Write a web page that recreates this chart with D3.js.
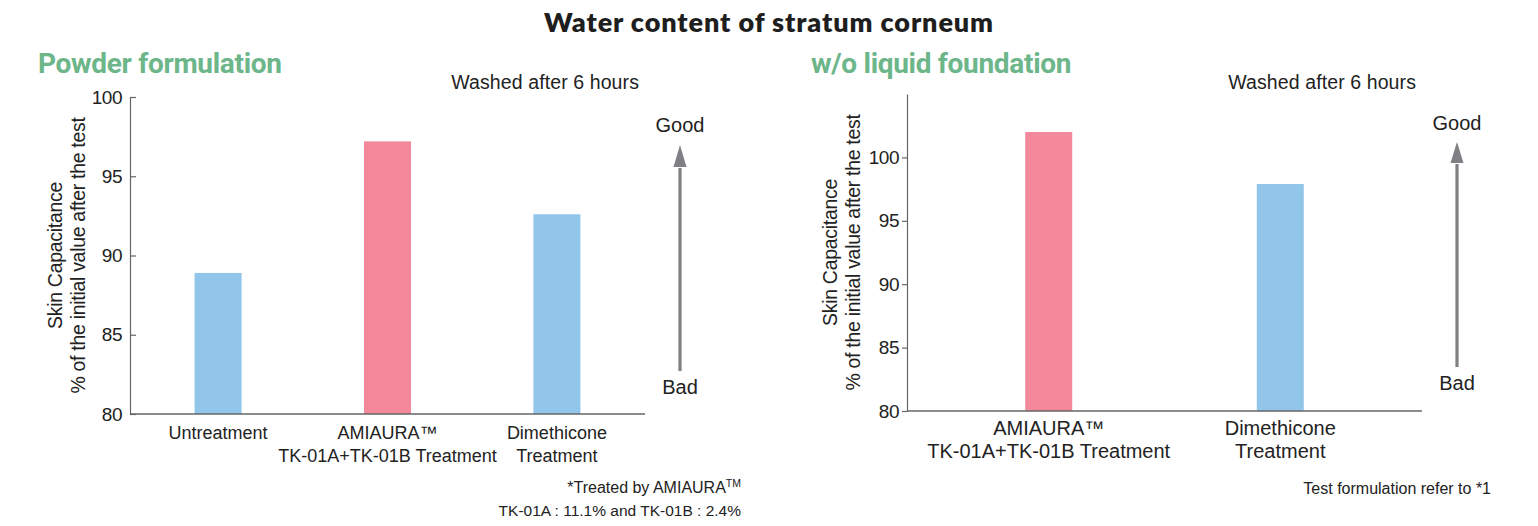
<!DOCTYPE html>
<html>
<head>
<meta charset="utf-8">
<script src="https://cdn.jsdelivr.net/npm/d3@7"></script>
<style>
  html, body { margin: 0; padding: 0; background: #fff; }
  svg { display: block; }
  text { font-family: 'Liberation Sans', Arial, sans-serif; fill: #222; }
</style>
</head>
<body>
<svg id="chart" width="1538" height="526"></svg>
<script>
// ---- data ----
const leftCategories = [["Untreatment"], ["AMIAURA\u2122", "TK-01A+TK-01B Treatment"], ["Dimethicone", "Treatment"]];
const leftValues = [88.9, 97.2, 92.6];
const leftColors = ["#92c5ea", "#f3889b", "#92c5ea"];
const leftTicks = [80, 85, 90, 95, 100];

const rightCategories = [["AMIAURA\u2122", "TK-01A+TK-01B Treatment"], ["Dimethicone", "Treatment"]];
const rightValues = [102.0, 97.9];
const rightColors = ["#f3889b", "#92c5ea"];
const rightTicks = [80, 85, 90, 95, 100];

const titleText = "Water content of stratum corneum";
const subtitles = ["Powder formulation", "w/o liquid foundation"];
const noteText = "Washed after 6 hours";
const yLabelLines = ["Skin Capacitance", "% of the initial value after the test"];

const svg = d3.select("#chart");
const green = "#6cb68a";
const axisColor = "#666";
const arrowColor = "#7f7f84";

// title
svg.append("text").attr("x", 769).attr("y", 32).attr("text-anchor", "middle")
  .style("font-family", "Lato, 'DejaVu Sans', sans-serif").style("font-weight", 800)
  .style("font-size", "27px").style("letter-spacing", "0.9px").style("fill", "#1e1e1e").text(titleText);

function panel(cfg) {
  const g = svg.append("g");
  const y = d3.scaleLinear().domain(cfg.domain).range([cfg.y0, cfg.y1]);
  const x = d3.scalePoint().domain(cfg.cats.map((d, i) => i)).range([cfg.x0, cfg.x1]).padding(cfg.pad);

  // subtitle
  g.append("text").attr("x", cfg.subX).attr("y", 73)
    .style("font-family", "Roboto, 'Liberation Sans', sans-serif").style("font-weight", 700)
    .style("font-size", "28px").style("letter-spacing", "-0.3px").style("fill", green)
    .text(cfg.subtitle);

  // note
  g.append("text").attr("x", cfg.noteX).attr("y", 89).attr("text-anchor", "end")
    .style("font-size", "19.5px").style("letter-spacing", "0.1px").text(noteText);

  // bars
  const bw = 47;
  g.selectAll("rect.bar").data(cfg.values).join("rect")
    .attr("class", "bar")
    .attr("x", (d, i) => x(i) - bw / 2)
    .attr("width", bw)
    .attr("y", d => y(d))
    .attr("height", d => y(cfg.domain[0]) - y(d))
    .attr("fill", (d, i) => cfg.colors[i]);

  // y axis
  const ax = g.append("g").attr("transform", `translate(${cfg.x0},0)`)
    .call(d3.axisLeft(y).tickValues(cfg.ticks).tickSize(cfg.tickSize).tickSizeOuter(0).tickPadding(cfg.tickPad));
  ax.select(".domain").attr("stroke", axisColor).attr("stroke-width", 1.2);
  ax.selectAll(".tick line").attr("stroke", axisColor).attr("stroke-width", 1.2);
  ax.selectAll(".tick text").style("font-family", "'Liberation Sans', Arial, sans-serif")
    .style("font-size", "19px").style("letter-spacing", "-0.5px").attr("fill", "#222");

  // x axis baseline
  g.append("line").attr("x1", cfg.x0).attr("x2", cfg.x1)
    .attr("y1", y(cfg.domain[0])).attr("y2", y(cfg.domain[0]))
    .attr("stroke", axisColor).attr("stroke-width", 1.4);

  // category labels
  cfg.cats.forEach((lines, i) => {
    lines.forEach((ln, j) => {
      g.append("text").attr("x", x(i)).attr("y", cfg.catY + j * cfg.catLH)
        .attr("text-anchor", "middle")
        .style("font-size", cfg.catSize + "px")
        .text(ln);
    });
  });

  // y label
  const midY = (cfg.y0 + cfg.y1) / 2;
  yLabelLines.forEach((ln, j) => {
    g.append("text")
      .attr("transform", `translate(${cfg.ylabX + j * 23},${midY}) rotate(-90)`)
      .attr("text-anchor", "middle")
      .style("font-size", "19.5px").style("letter-spacing", "-0.3px")
      .text(ln);
  });

  // good/bad arrow
  const headLen = cfg.arrHeadBase - cfg.arrTop;
  g.append("line").attr("x1", cfg.arrX).attr("x2", cfg.arrX)
    .attr("y1", cfg.arrBottom).attr("y2", cfg.arrHeadBase + 1)
    .attr("stroke", arrowColor).attr("stroke-width", 3.2);
  g.append("path")
    .attr("d", `M${cfg.arrX},${cfg.arrTop} L${cfg.arrX + 6.5},${cfg.arrHeadBase} L${cfg.arrX - 6.5},${cfg.arrHeadBase} Z`)
    .attr("fill", arrowColor);
  g.append("text").attr("x", cfg.arrX).attr("y", cfg.goodY).attr("text-anchor", "middle")
    .style("font-size", "20px").text("Good");
  g.append("text").attr("x", cfg.arrX).attr("y", cfg.badY).attr("text-anchor", "middle")
    .style("font-size", "20px").text("Bad");
  return g;
}

panel({
  subtitle: subtitles[0], subX: 38, noteX: 639,
  domain: [80, 100], y0: 414, y1: 97, x0: 130, x1: 645, pad: 0.52,
  values: leftValues, colors: leftColors, cats: leftCategories, ticks: leftTicks,
  tickSize: -6, tickPad: 8, catY: 439, catLH: 23, catSize: 18,
  ylabX: 62, arrX: 680, arrTop: 145, arrHeadBase: 167, arrBottom: 371, goodY: 132, badY: 394
});

panel({
  subtitle: subtitles[1], subX: 811, noteX: 1416,
  domain: [80, 105], y0: 411, y1: 94, x0: 907, x1: 1422, pad: 0.612,
  values: rightValues, colors: rightColors, cats: rightCategories, ticks: rightTicks,
  tickSize: 5, tickPad: 3, catY: 435, catLH: 23, catSize: 20,
  ylabX: 837, arrX: 1457, arrTop: 142, arrHeadBase: 163, arrBottom: 367, goodY: 130, badY: 390
});

// footnotes
const fn1 = svg.append("text").attr("x", 741).attr("y", 493).attr("text-anchor", "end")
  .style("font-size", "16px");
fn1.append("tspan").text("*Treated by AMIAURA");
fn1.append("tspan").attr("dy", -6).style("font-size", "10.5px").text("TM");
svg.append("text").attr("x", 741).attr("y", 516).attr("text-anchor", "end")
  .style("font-size", "15.5px")
  .text("TK-01A : 11.1%  and  TK-01B : 2.4%");
svg.append("text").attr("x", 1491).attr("y", 494).attr("text-anchor", "end")
  .style("font-size", "16px")
  .text("Test formulation refer to *1");
</script>
</body>
</html>
